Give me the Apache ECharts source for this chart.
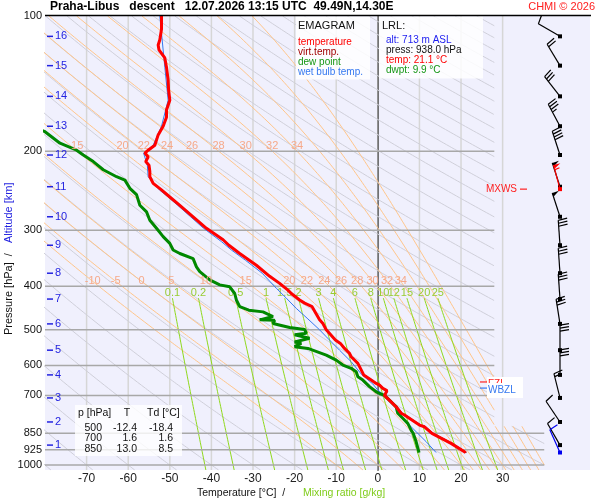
<!DOCTYPE html>
<html>
<head>
<meta charset="utf-8">
<title>Emagram Praha-Libus</title>
<script src="https://cdn.jsdelivr.net/npm/echarts@6/dist/echarts.min.js"></script>
<style>
  html, body { margin: 0; padding: 0; background: #fff; }
  #container { width: 600px; height: 500px; }
</style>
</head>
<body>
<div id="container"></div>
<script>
var FONT = 'Liberation Sans, Arial, sans-serif';

// ---- sounding ----
var tempP = [100,107,113,116,119,124,130,139,146,154,162,168,176,184,189,194,199,202,206,211,215,222,228,236,244,253,264,280,297,315,324,338,359,380,394,408,415,429,436,444,448,475,484,500,527,536,550,564,574,594,614,620,630,647,658,664,675,683,690,700,742,767,774,815,822,850,895,938];
var tempT = [-52.0,-52.0,-52.4,-52.8,-52.6,-51.2,-50.8,-50.4,-50.3,-50.0,-50.8,-50.8,-51.6,-52.8,-53.2,-53.6,-55.2,-56.0,-55.2,-55.8,-55.0,-54.8,-54.8,-54.0,-52.0,-50.0,-47.6,-44.4,-41.2,-37.2,-35.8,-33.2,-29.2,-26.0,-23.6,-21.6,-20.8,-18.8,-17.6,-15.8,-15.6,-14.0,-13.2,-12.4,-10.2,-9.0,-8.0,-6.8,-6.4,-4.8,-4.0,-3.6,-3.4,-1.6,-0.4,0.4,1.2,2.2,2.5,1.6,4.4,5.6,6.4,10.0,11.2,13.0,17.6,21.1];
var virtT = [-52.0,-52.0,-52.4,-52.8,-52.6,-51.2,-50.8,-50.4,-50.3,-50.0,-50.8,-50.8,-51.6,-52.8,-53.2,-53.6,-55.2,-56.0,-55.2,-55.8,-55.0,-54.8,-54.8,-54.0,-52.0,-50.0,-47.6,-44.4,-41.2,-37.2,-35.8,-33.2,-29.2,-26.0,-23.6,-21.6,-20.8,-18.8,-17.6,-15.8,-15.6,-14.0,-13.2,-12.4,-10.2,-9.0,-8.0,-6.8,-6.4,-4.8,-4.0,-3.6,-3.4,-1.5,-0.3,0.5,1.3,2.3,2.6,1.8,4.6,5.8,6.6,10.2,11.4,13.2,17.8,21.3];
var dewP = [176,181,192,199,204,211,220,228,232,242,250,264,273,285,297,310,321,332,338,347,362,371,387,397,401,415,429,444,452,456,467,475,476,484,494,499,509,513,522,532,536,545,550,569,584,599,609,620,636,647,669,687,693,700,742,767,774,787,808,836,850,887,938];
var dewT = [-83.0,-80.0,-76.4,-72.4,-70.8,-68.4,-66.0,-62.8,-60.8,-59.6,-58.0,-57.2,-55.6,-54.8,-53.2,-51.6,-50.0,-49.2,-47.6,-44.4,-43.6,-42.8,-40.4,-38.0,-35.6,-34.4,-34.0,-33.2,-31.0,-27.6,-25.2,-28.4,-24.8,-25.2,-21.2,-17.6,-17.2,-20.0,-16.4,-20.0,-18.4,-20.0,-16.8,-12.4,-10.0,-8.4,-6.4,-5.2,-4.8,-3.6,-2.0,-0.4,0.4,1.6,4.4,4.8,5.2,6.0,7.2,8.0,8.5,9.2,9.9];
var wetP = [100,130,154,176,194,202,215,228,244,253,264,280,297,318,332,350,374,404,425,448,471,500,518,527,555,589,630,660,681,700,742,761,801,843,887,938];
var wetT = [-52.4,-51.2,-50.4,-52.0,-54.0,-56.3,-55.4,-55.2,-52.5,-50.4,-48.1,-45.0,-41.9,-37.6,-35.2,-31.8,-27.8,-24.4,-22.0,-19.6,-17.0,-14.0,-12.4,-11.6,-9.2,-6.4,-3.8,-1.2,0.0,1.6,4.3,4.6,6.8,9.2,11.6,14.0];

// ---- axes ----
var pressLevels = [100,200,300,400,500,600,700,850,925,1000];
var isoTemps = [-70,-60,-50,-40,-30,-20,-10,0,10,20,30];
var altKm = [1,2,3,4,5,6,7,8,9,10,11,12,13,14,15,16];
var altP = [903,802,709,630,555,485,427,374,324,280,240,204,176,151,129,111];

// ---- wind (per altitude level, kt) ----
var windDir = [330,326,346,0,0,351,356,356,356,342,342,342,332,322,329,300];
var windSpd = [10,10,15,30,30,30,30,30,30,50,50,40,35,30,20,10];
var sfcP = 938, sfcDir = 336, sfcSpd = 10;
var mxwsP = 243, mxwsDir = 345, mxwsSpd = 55;
var fzlP = 660, wbzlP = 681;

// ---- diagram line families ----
var thetaW = [-10,-5,0,5,10,15,20,22,24,26,28,30,32,34,36,38,40];
var thetaWLabel400 = [-10,-5,0,5,10,15,20,22,24,26,28,30,32,34];
var thetaWLabel200 = [15,20,22,24,26,28,30,32,34];
var mixRatio = [0.1,0.2,0.5,1,1.5,2,3,4,6,8,10,12,15,20,25];

// ---- texts ----
var tableP = [500,700,850];
var tableT = [-12.4,1.6,13.0];
var tableTd = [-18.4,1.6,8.5];
var lrlAlt = 713, lrlPress = 938.0, lrlTemp = 21.1, lrlDwpt = 9.9;

var P_TOP = 100, P_BOT = 1026, P_STEP = 820;

function tmaxAt(p) { return p < P_STEP ? 28 : 40; }

var pGrid = [];
for (var i = 0; i <= 300; i++) pGrid.push(P_TOP * Math.pow(P_BOT / P_TOP, i / 300));
pGrid.push(P_STEP, 1000, 200, 390, 425);
pGrid.sort(function (a, b) { return a - b; });

function esat(Tk) { var t = Tk - 273.15; return 6.112 * Math.exp(17.67 * t / (t + 243.5)); }
function moistLapse(Tk, p) {
  var es = esat(Tk), rs = 0.622 * es / (p - es);
  return (287.04 * Tk + 2.501e6 * rs) / (1005.7 + 2.501e6 * 2.501e6 * rs * 0.622 / (287.04 * Tk * Tk));
}
function rk4(T, p1, p2) {
  var h = Math.log(p2 / p1), l = Math.log(p1);
  function f(Tk, lp) { return moistLapse(Tk, Math.exp(lp)); }
  var k1 = f(T, l), k2 = f(T + h * k1 / 2, l + h / 2), k3 = f(T + h * k2 / 2, l + h / 2), k4 = f(T + h * k3, l + h);
  return T + h * (k1 + 2 * k2 + 2 * k3 + k4) / 6;
}
function moistCurve(tw) {
  var i0 = pGrid.indexOf(1000), Tk = [];
  Tk[i0] = tw + 273.15;
  for (var i = i0 - 1; i >= 0; i--) Tk[i] = rk4(Tk[i + 1], pGrid[i + 1], pGrid[i]);
  for (var j = i0 + 1; j < pGrid.length; j++) Tk[j] = rk4(Tk[j - 1], pGrid[j - 1], pGrid[j]);
  return pGrid.map(function (p, k) { return [Tk[k] - 273.15, p]; });
}
function dryCurve(thC) {
  return pGrid.map(function (p) { return [(thC + 273.15) * Math.pow(p / 1000, 0.2857) - 273.15, p]; });
}
function mixT(w, p) {
  var e = w * p / (622 + w), l = Math.log(e / 6.112);
  return 243.5 * l / (17.67 - l);
}
function mixCurve(w) {
  return pGrid.filter(function (p) { return p >= 425; }).map(function (p) { return [mixT(w, p), p]; });
}
function valueAt(curve, p) {
  for (var i = 0; i < curve.length; i++) if (Math.abs(curve[i][1] - p) < 1e-9) return curve[i][0];
  return NaN;
}
// cut a curve against the right edge of the diagram (28 °C above 820 hPa, 40 °C below)
function clipCurve(pts) {
  var segs = [], cur = [];
  for (var i = 0; i < pts.length; i++) {
    var T = pts[i][0], p = pts[i][1], inside = T <= tmaxAt(p);
    if (i > 0) {
      var q = pts[i - 1], qin = q[0] <= tmaxAt(q[1]);
      var same = (q[1] < P_STEP) === (p < P_STEP);
      if (same && qin !== inside) {
        var tm = tmaxAt(p), f = (tm - q[0]) / (T - q[0]);
        cur.push([tm, q[1] + f * (p - q[1])]);
        if (!inside) { segs.push(cur); cur = []; }
      } else if (!same && qin && !inside) { segs.push(cur); cur = []; }
    }
    if (inside) cur.push([T, p]);
  }
  segs.push(cur);
  return segs.filter(function (s) { return s.length > 1; });
}

function zip(ps, ts) { return ps.map(function (p, i) { return [ts[i], p]; }); }

var series = [];

function addFamily(curves, color, z) {
  curves.forEach(function (c) {
    clipCurve(c).forEach(function (seg) {
      series.push({
        type: 'line', data: seg, symbol: 'none', silent: true, z: z,
        lineStyle: { color: color, width: 1 }
      });
    });
  });
}

// isotherms
series.push({
  type: 'custom', z: 1, silent: true,
  data: isoTemps.map(function (t) { return [t, P_TOP]; }),
  renderItem: function (params, api) {
    var t = api.value(0), a = api.coord([t, P_TOP]), b = api.coord([t, P_BOT]);
    return { type: 'line', shape: { x1: a[0], y1: a[1], x2: b[0], y2: b[1] },
      style: { stroke: t === 0 ? '#9a9a9a' : '#d6d6d6', lineWidth: 1.5 } };
  }
});

var dryThetas = [];
for (var th = -80; th <= 300; th += 10) dryThetas.push(th);
addFamily(dryThetas.map(dryCurve), '#cfcfd9', 2);
var moistCurves = thetaW.map(moistCurve);
addFamily(moistCurves, '#ffc58a', 3);
var mixCurves = mixRatio.map(mixCurve);
addFamily(mixCurves, '#8fd81c', 4);

// pressure lines + labels
series.push({
  type: 'custom', z: 5, silent: true,
  data: pressLevels.map(function (p) { return [-80, p]; }),
  renderItem: function (params, api) {
    var p = api.value(1), a = api.coord([-80, p]), b = api.coord([tmaxAt(p), p]);
    var kids = [{ type: 'text', x: a[0] - 3, y: a[1],
      style: { text: String(p), fill: '#111', font: '11px ' + FONT, align: 'right', verticalAlign: 'middle' } }];
    if (p > P_TOP) kids.unshift({ type: 'line', shape: { x1: a[0], y1: a[1], x2: b[0], y2: b[1] },
      style: { stroke: '#a8a8a8', lineWidth: 1.5 } });
    return { type: 'group', children: kids };
  }
});

// moist-adiabat labels: [T at anchor, pressure for the baseline, theta_w]
var moistLabels = [];
thetaWLabel400.forEach(function (tw) { moistLabels.push([valueAt(moistCurves[thetaW.indexOf(tw)], 390), 400, tw]); });
thetaWLabel200.forEach(function (tw) { moistLabels.push([valueAt(moistCurves[thetaW.indexOf(tw)], 200), 200, tw]); });
series.push({
  type: 'custom', z: 12.5, silent: true, data: moistLabels,
  renderItem: function (params, api) {
    var c = api.coord([api.value(0), api.value(1)]);
    return { type: 'text', x: c[0], y: c[1],
      style: { text: String(api.value(2)), fill: '#f6a98a', font: '11px ' + FONT, align: 'center', verticalAlign: 'bottom' } };
  }
});
// mixing-ratio labels
series.push({
  type: 'custom', z: 6, silent: true,
  data: mixRatio.map(function (w, i) { return [mixCurves[i][0][0], 425, w]; }),
  renderItem: function (params, api) {
    var c = api.coord([api.value(0), api.value(1)]);
    return { type: 'text', x: c[0], y: c[1],
      style: { text: String(api.value(2)), fill: '#99cc33', font: '11px ' + FONT, align: 'center', verticalAlign: 'bottom' } };
  }
});

// altitude scale
series.push({
  type: 'custom', z: 7, silent: true,
  data: altKm.map(function (k, i) { return [-80, altP[i], k]; }),
  renderItem: function (params, api) {
    var c = api.coord([-80, api.value(1)]);
    return { type: 'group', children: [
      { type: 'line', shape: { x1: c[0] + 2, y1: c[1], x2: c[0] + 8, y2: c[1] }, style: { stroke: '#2323e0', lineWidth: 1.5 } },
      { type: 'text', x: c[0] + 10, y: c[1],
        style: { text: String(api.value(2)), fill: '#2323e0', font: '11px ' + FONT, align: 'left', verticalAlign: 'middle' } }
    ] };
  }
});

// sounding curves
series.push({ type: 'line', name: 'virt.temp.', data: zip(tempP, virtT), symbol: 'none', z: 10,
  lineStyle: { color: '#a00000', width: 1.5 } });
series.push({ type: 'line', name: 'wet bulb temp.', data: zip(wetP, wetT), symbol: 'none', z: 11,
  lineStyle: { color: '#3478f0', width: 1 } });
series.push({ type: 'line', name: 'dew point', data: zip(dewP, dewT), symbol: 'none', z: 12,
  lineStyle: { color: '#008800', width: 3 } });
series.push({ type: 'line', name: 'temperature', data: zip(tempP, tempT), symbol: 'none', z: 13,
  lineStyle: { color: '#ff0000', width: 3 } });

// wind barbs
function renderBarb(params, api) {
  var base = api.coord([0, api.value(1)]);
  var dir = api.value(2) * Math.PI / 180, spd = api.value(3), kind = api.value(4);
  var color = ['#000000', '#ff0000', '#0000ee'][kind];
  var ux = Math.sin(dir), uy = -Math.cos(dir), px = -uy, py = ux;
  var L = 25, tip = [base[0] + ux * L, base[1] + uy * L];
  function at(d) { return [tip[0] - ux * d, tip[1] - uy * d]; }
  var kids = [{ type: 'line', shape: { x1: base[0], y1: base[1], x2: tip[0], y2: tip[1] }, style: { stroke: color, lineWidth: 1.2 } }];
  var rest = Math.round(spd / 5) * 5, pos = 0;
  while (rest >= 50) {
    var a = at(pos), b = at(pos + 4);
    kids.push({ type: 'polygon', shape: { points: [a, b, [a[0] + px * 7, a[1] + py * 7]] }, style: { fill: color } });
    pos += 5; rest -= 50;
  }
  while (rest >= 10) {
    var s = at(pos);
    kids.push({ type: 'line', shape: { x1: s[0], y1: s[1], x2: s[0] + px * 9 + ux * 1.5, y2: s[1] + py * 9 + uy * 1.5 },
      style: { stroke: color, lineWidth: 1.2 } });
    pos += 3; rest -= 10;
  }
  if (rest >= 5) {
    if (pos === 0) pos = 3;
    var h = at(pos);
    kids.push({ type: 'line', shape: { x1: h[0], y1: h[1], x2: h[0] + px * 5 + ux * 0.8, y2: h[1] + py * 5 + uy * 0.8 },
      style: { stroke: color, lineWidth: 1.2 } });
  }
  kids.push({ type: 'rect', shape: { x: base[0] - 2, y: base[1] - 2, width: 4, height: 4 }, style: { fill: color } });
  return { type: 'group', children: kids };
}
var windData = altKm.map(function (k, i) { return [0, altP[i], windDir[i], windSpd[i], 0]; });
windData.push([0, mxwsP, mxwsDir, mxwsSpd, 1]);
windData.push([0, sfcP, sfcDir, sfcSpd, 2]);
series.push({ type: 'custom', xAxisIndex: 1, yAxisIndex: 1, z: 20, silent: true,
  data: windData, encode: { x: 0, y: 1 }, renderItem: renderBarb });

// level markers (max wind, freezing level, wet-bulb zero)
var markerNames = ['MXWS', 'FZL', 'WBZL'];
series.push({
  type: 'custom', xAxisIndex: 1, yAxisIndex: 1, z: 21, silent: true,
  data: [[0, mxwsP, 0], [0, fzlP, 1], [0, wbzlP, 2]], encode: { x: 0, y: 1 },
  renderItem: function (params, api) {
    var c = api.coord([0, api.value(1)]), k = api.value(2), name = markerNames[k];
    var f = '10px ' + FONT;
    if (k === 0) {
      return { type: 'group', children: [
        { type: 'line', shape: { x1: c[0] - 40, y1: c[1], x2: c[0] - 33, y2: c[1] }, style: { stroke: '#ff2020', lineWidth: 1.2 } },
        { type: 'text', x: c[0] - 43, y: c[1], style: { text: name, fill: '#ff2020', font: f, align: 'right', verticalAlign: 'middle' } }
      ] };
    }
    var col = k === 1 ? '#ff2020' : '#3478f0';
    return { type: 'group', children: [
      { type: 'rect', shape: { x: c[0] - 73, y: c[1] - 7, width: 36, height: 15 }, style: { fill: '#ffffff' } },
      { type: 'line', shape: { x1: c[0] - 80, y1: c[1] - 2, x2: c[0] - 73, y2: c[1] - 2 }, style: { stroke: col, lineWidth: 1.2 } },
      { type: 'text', x: c[0] - 72, y: c[1], style: { text: name, fill: col, font: f, align: 'left', verticalAlign: 'middle' } }
    ] };
  }
});

// ---- static texts ----
function txt(x, y, s, color, size, align, weight) {
  return { type: 'text', x: x, y: y, z: 100,
    style: { text: s, fill: color, font: (weight ? weight + ' ' : '') + size + 'px ' + FONT,
      align: align || 'left', verticalAlign: 'middle' } };
}
var graphics = [
  { type: 'line', z: 100, shape: { x1: 45, y1: 15.5, x2: 591, y2: 15.5 }, style: { stroke: '#000', lineWidth: 1.5 } },
  txt(50, 7, 'Praha-Libus   descent   12.07.2026 13:15 UTC  49.49N,14.30E', '#000', 12, 'left', 'bold'),
  txt(595, 7, 'CHMI \u00a9 2026', '#ff2020', 11, 'right'),
  // legend box
  { type: 'rect', z: 99, shape: { x: 296, y: 16.5, width: 74, height: 63 }, style: { fill: 'rgba(255,255,255,0.85)' } },
  txt(298, 26, 'EMAGRAM', '#111', 11),
  txt(298, 42, 'temperature', '#ff0000', 10),
  txt(298, 52, 'virt.temp.', '#a00000', 10),
  txt(298, 62, 'dew point', '#149614', 10),
  txt(298, 72, 'wet bulb temp.', '#3478f0', 10),
  // LRL box
  { type: 'rect', z: 99, shape: { x: 379, y: 16.5, width: 104, height: 62 }, style: { fill: 'rgba(255,255,255,0.85)' } },
  txt(382, 26, 'LRL:', '#111', 11),
  txt(386, 40, 'alt: ' + lrlAlt + ' m ASL', '#1c1cf0', 10),
  txt(386, 50, 'press: ' + lrlPress.toFixed(1) + ' hPa', '#111', 10),
  txt(386, 60, 'temp: ' + lrlTemp.toFixed(1) + ' \u00b0C', '#ff0000', 10),
  txt(386, 70, 'dwpt: ' + lrlDwpt.toFixed(1) + ' \u00b0C', '#149614', 10),
  // table box
  { type: 'rect', z: 99, shape: { x: 75, y: 405, width: 107, height: 51 }, style: { fill: 'rgba(255,255,255,0.8)' } },
  txt(78, 413, 'p [hPa]', '#111', 10.5),
  txt(127, 413, 'T', '#111', 10.5, 'center'),
  txt(147, 413, 'Td [\u00b0C]', '#111', 10.5),
  // axis titles
  txt(197, 493, 'Temperature [\u00b0C]  /', '#111', 10.5),
  txt(303, 493, 'Mixing ratio [g/kg]', '#7fcc1a', 10.5),
  { type: 'group', x: 9, y: 335, rotation: Math.PI / 2, z: 100, children: [
    { type: 'text', x: 0, y: 0, style: { text: 'Pressure [hPa]  /', fill: '#111', font: '11px ' + FONT, align: 'left', verticalAlign: 'middle' } },
    { type: 'text', x: 92, y: 0, style: { text: 'Altitude [km]', fill: '#2323e0', font: '11px ' + FONT, align: 'left', verticalAlign: 'middle' } }
  ] }
];
tableP.forEach(function (p, i) {
  var y = 428 + i * 10.5;
  graphics.push(txt(102, y, String(p), '#111', 10.5, 'right'));
  graphics.push(txt(137, y, tableT[i].toFixed(1), '#111', 10.5, 'right'));
  graphics.push(txt(173, y, tableTd[i].toFixed(1), '#111', 10.5, 'right'));
});

var myChart = echarts.init(document.getElementById('container'));
myChart.setOption({
  animation: false,
  backgroundColor: '#ffffff',
  grid: [
    { left: 45, top: 16, width: 545, height: 454, show: true, backgroundColor: '#f0f0fd', borderWidth: 0 },
    { left: 530, top: 16, width: 60, height: 454, show: false }
  ],
  xAxis: [
    { type: 'value', gridIndex: 0, min: -80, max: 51, interval: 10,
      axisLine: { show: false }, axisTick: { show: false }, splitLine: { show: false },
      axisLabel: { margin: 3, color: '#222', fontSize: 12, fontFamily: FONT,
        formatter: function (v) { return (v >= -70 && v <= 30 && Math.abs(v % 10) < 1e-6) ? String(v) : ''; } } },
    { type: 'value', gridIndex: 1, min: -1, max: 1, show: false }
  ],
  yAxis: [
    { type: 'log', gridIndex: 0, logBase: 10, min: P_TOP, max: P_BOT, inverse: true,
      axisLine: { show: true, lineStyle: { color: '#000', width: 1.5 } },
      axisTick: { show: false }, axisLabel: { show: false }, splitLine: { show: false } },
    { type: 'log', gridIndex: 1, logBase: 10, min: P_TOP, max: P_BOT, inverse: true, show: false }
  ],
  graphic: graphics,
  series: series
});
</script>
</body>
</html>
